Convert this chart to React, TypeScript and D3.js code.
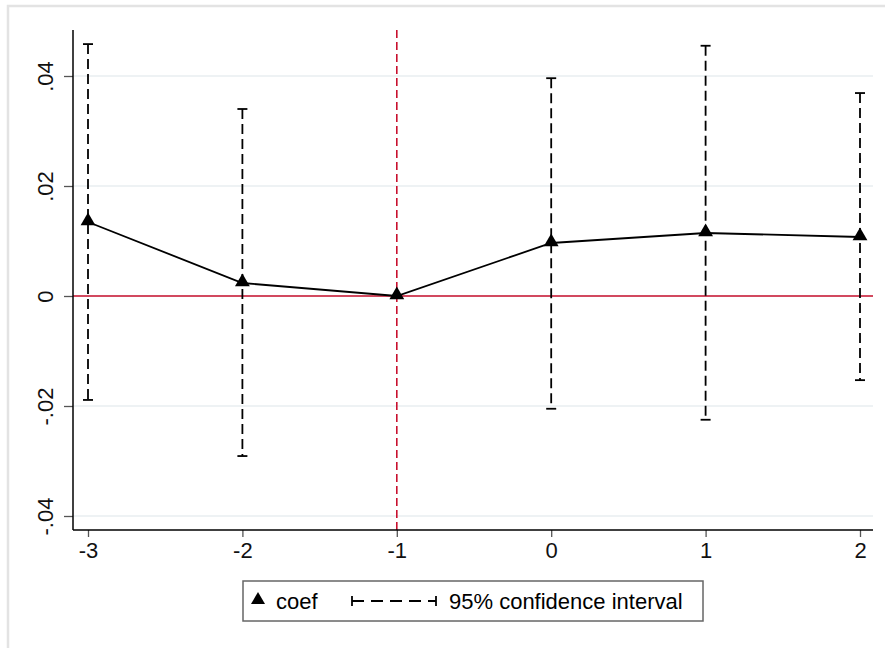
import React, { useEffect, useRef } from 'react';
import * as d3 from 'd3';

// event-time periods and estimates
const periods = [-3, -2, -1, 0, 1, 2];
const coef = [0.01345, 0.00236, 0, 0.00964, 0.01145, 0.01073];
const ciLow = [-0.0189, -0.0291, 0, -0.0205, -0.0225, -0.0153];
const ciHigh = [0.0458, 0.034, 0, 0.0396, 0.0455, 0.0369];
const yTicks = [-0.04, -0.02, 0, 0.02, 0.04];
const yTickLabels = ['-.04', '-.02', '0', '.02', '.04'];
const xTickLabels = ['-3', '-2', '-1', '0', '1', '2'];
const refPeriod = -1;

const W = 885;
const H = 648;

const App = () => {
  const svgRef = useRef<SVGSVGElement>(null);

  useEffect(() => {
    const svg = d3.select(svgRef.current);
    svg.selectAll('*').remove();

    const font = 'Arial, "Liberation Sans", sans-serif';
    const left = 73, right = 873, top = 30, bottom = 530;

    // outer graph region border (cropped)
    svg.append('rect')
      .attr('x', 8).attr('y', 6)
      .attr('width', 900).attr('height', 700)
      .attr('fill', 'white')
      .attr('stroke', '#e3e3e3')
      .attr('stroke-width', 2.5);

    const x = d3.scaleLinear().domain([-3, 2]).range([88, 860]);
    const y = d3.scaleLinear().domain([0, 0.02]).range([296, 186]);

    // gridlines
    svg.append('g').selectAll('line')
      .data(yTicks)
      .enter()
      .append('line')
      .attr('x1', left).attr('x2', right)
      .attr('y1', d => y(d)).attr('y2', d => y(d))
      .attr('stroke', '#e8eef1')
      .attr('stroke-width', 1.5);

    // reference lines
    svg.append('line')
      .attr('x1', left).attr('x2', right)
      .attr('y1', y(0)).attr('y2', y(0))
      .attr('stroke', '#c8102e')
      .attr('stroke-width', 1.6);
    svg.append('line')
      .attr('x1', x(refPeriod)).attr('x2', x(refPeriod))
      .attr('y1', top).attr('y2', bottom)
      .attr('stroke', '#c8102e')
      .attr('stroke-width', 1.6)
      .attr('stroke-dasharray', '8,4');

    // axes
    const yAxis = d3.axisLeft(y)
      .tickValues(yTicks)
      .tickFormat((d, i) => yTickLabels[i])
      .tickSize(9)
      .tickPadding(6);
    const gy = svg.append('g').attr('transform', `translate(${left},0)`).call(yAxis);
    gy.select('.domain').remove();
    gy.selectAll('.tick line').attr('stroke', '#555').attr('stroke-width', 1.3);
    gy.selectAll('.tick text')
      .attr('transform', 'rotate(-90, -28, 0)')
      .attr('x', -28)
      .attr('dy', '0.35em')
      .attr('text-anchor', 'middle')
      .style('font-family', font)
      .style('font-size', '22px')
      .attr('fill', '#111');

    const xAxis = d3.axisBottom(x)
      .tickValues(periods)
      .tickFormat((d, i) => xTickLabels[i])
      .tickSize(7)
      .tickPadding(5);
    const gx = svg.append('g').attr('transform', `translate(0,${bottom})`).call(xAxis);
    gx.select('.domain').remove();
    gx.selectAll('.tick line').attr('stroke', '#555').attr('stroke-width', 1.3);
    gx.selectAll('.tick text')
      .style('font-family', font)
      .style('font-size', '22px')
      .attr('fill', '#111');

    // axis lines
    svg.append('line')
      .attr('x1', left).attr('x2', left)
      .attr('y1', top).attr('y2', bottom)
      .attr('stroke', '#000').attr('stroke-width', 1.5);
    svg.append('line')
      .attr('x1', left).attr('x2', right)
      .attr('y1', bottom).attr('y2', bottom)
      .attr('stroke', '#000').attr('stroke-width', 1.5);

    // confidence intervals
    const ci = periods.map((p, i) => ({ p, lo: ciLow[i], hi: ciHigh[i] }))
      .filter(d => d.hi !== d.lo);
    const ciG = svg.append('g');
    ciG.selectAll('line.spike')
      .data(ci)
      .enter()
      .append('line')
      .attr('x1', d => x(d.p)).attr('x2', d => x(d.p))
      .attr('y1', d => y(d.hi)).attr('y2', d => y(d.lo))
      .attr('stroke', '#000')
      .attr('stroke-width', 1.8)
      .attr('stroke-dasharray', '10,5');
    ['lo', 'hi'].forEach(k => {
      ciG.selectAll(`line.cap-${k}`)
        .data(ci)
        .enter()
        .append('line')
        .attr('x1', d => x(d.p) - 5).attr('x2', d => x(d.p) + 5)
        .attr('y1', d => y(d[k])).attr('y2', d => y(d[k]))
        .attr('stroke', '#000')
        .attr('stroke-width', 1.8);
    });

    // coefficient line
    const line = d3.line<number>()
      .x((d, i) => x(periods[i]))
      .y(d => y(d));
    svg.append('path')
      .datum(coef)
      .attr('d', line)
      .attr('fill', 'none')
      .attr('stroke', '#000')
      .attr('stroke-width', 1.8);

    const tri = d3.symbol().type(d3.symbolTriangle).size(95);
    svg.append('g').selectAll('path')
      .data(coef)
      .enter()
      .append('path')
      .attr('d', tri)
      .attr('transform', (d, i) => `translate(${x(periods[i])},${y(d) - 1})`)
      .attr('fill', '#000');

    // legend
    const lg = svg.append('g');
    lg.append('rect')
      .attr('x', 243).attr('y', 581)
      .attr('width', 460).attr('height', 40)
      .attr('fill', 'white')
      .attr('stroke', '#666')
      .attr('stroke-width', 1.5);
    lg.append('path')
      .attr('d', d3.symbol().type(d3.symbolTriangle).size(85))
      .attr('transform', 'translate(258,600)')
      .attr('fill', '#000');
    lg.append('text')
      .attr('x', 276).attr('y', 609)
      .style('font-family', font)
      .style('font-size', '22px')
      .text('coef');
    lg.append('line')
      .attr('x1', 352).attr('x2', 436)
      .attr('y1', 601).attr('y2', 601)
      .attr('stroke', '#000').attr('stroke-width', 1.8)
      .attr('stroke-dasharray', '12,7');
    [352, 436].forEach(cx => {
      lg.append('line')
        .attr('x1', cx).attr('x2', cx)
        .attr('y1', 596).attr('y2', 606)
        .attr('stroke', '#000').attr('stroke-width', 1.8);
    });
    lg.append('text')
      .attr('x', 449).attr('y', 609)
      .style('font-family', font)
      .style('font-size', '22px')
      .text('95% confidence interval');
  }, []);

  return (
    <svg
      ref={svgRef}
      width={W}
      height={H}
      style={{ position: 'absolute', left: 0, top: 0, display: 'block', background: 'white' }}
    />
  );
};

export default App;
